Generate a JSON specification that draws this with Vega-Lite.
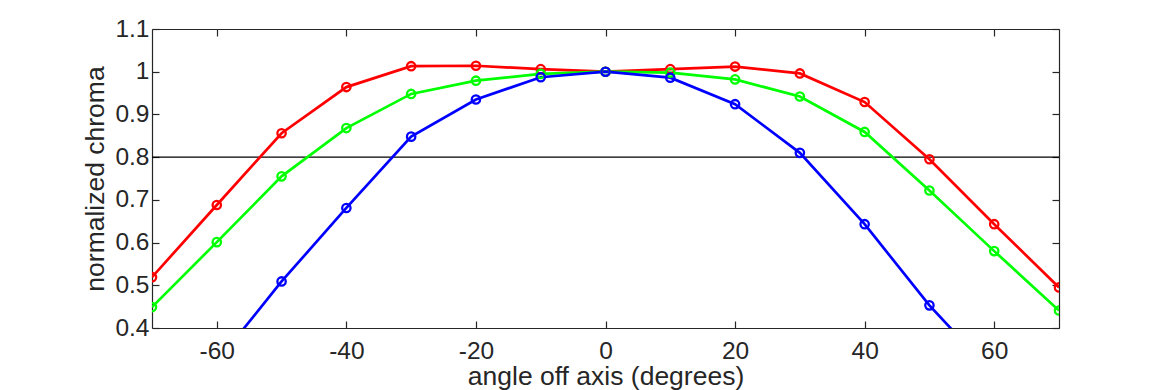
{
  "$schema": "https://vega.github.io/schema/vega-lite/v6.json",
  "width": 907,
  "height": 299,
  "autosize": "none",
  "padding": {"left": 152, "top": 29, "right": 111, "bottom": 62},
  "background": "white",
  "config": {
    "view": {"stroke": null},
    "font": "Liberation Sans",
    "axis": {
      "domainColor": "#262626",
      "domainWidth": 1.2,
      "tickColor": "#262626",
      "tickWidth": 1.2,
      "tickSize": -7,
      "grid": false,
      "labelColor": "#262626",
      "labelFontSize": 24.5,
      "labelFont": "Liberation Sans",
      "titleFont": "Liberation Sans",
      "titleFontSize": 26.5,
      "titleFontWeight": "normal",
      "titleColor": "#262626"
    }
  },
  "data": {
    "values": [
      {"angle": -70, "chroma": 0.519, "series": "red"},
      {"angle": -60, "chroma": 0.688, "series": "red"},
      {"angle": -50, "chroma": 0.856, "series": "red"},
      {"angle": -40, "chroma": 0.964, "series": "red"},
      {"angle": -30, "chroma": 1.013, "series": "red"},
      {"angle": -20, "chroma": 1.014, "series": "red"},
      {"angle": -10, "chroma": 1.006, "series": "red"},
      {"angle": 0, "chroma": 1.0, "series": "red"},
      {"angle": 10, "chroma": 1.006, "series": "red"},
      {"angle": 20, "chroma": 1.012, "series": "red"},
      {"angle": 30, "chroma": 0.996, "series": "red"},
      {"angle": 40, "chroma": 0.929, "series": "red"},
      {"angle": 50, "chroma": 0.795, "series": "red"},
      {"angle": 60, "chroma": 0.643, "series": "red"},
      {"angle": 70, "chroma": 0.495, "series": "red"},
      {"angle": -70, "chroma": 0.449, "series": "green"},
      {"angle": -60, "chroma": 0.601, "series": "green"},
      {"angle": -50, "chroma": 0.755, "series": "green"},
      {"angle": -40, "chroma": 0.868, "series": "green"},
      {"angle": -30, "chroma": 0.948, "series": "green"},
      {"angle": -20, "chroma": 0.979, "series": "green"},
      {"angle": -10, "chroma": 0.995, "series": "green"},
      {"angle": 0, "chroma": 1.0, "series": "green"},
      {"angle": 10, "chroma": 0.998, "series": "green"},
      {"angle": 20, "chroma": 0.982, "series": "green"},
      {"angle": 30, "chroma": 0.942, "series": "green"},
      {"angle": 40, "chroma": 0.859, "series": "green"},
      {"angle": 50, "chroma": 0.722, "series": "green"},
      {"angle": 60, "chroma": 0.58, "series": "green"},
      {"angle": 70, "chroma": 0.441, "series": "green"},
      {"angle": -70, "chroma": 0.15, "series": "blue"},
      {"angle": -60, "chroma": 0.32, "series": "blue"},
      {"angle": -50, "chroma": 0.509, "series": "blue"},
      {"angle": -40, "chroma": 0.681, "series": "blue"},
      {"angle": -30, "chroma": 0.848, "series": "blue"},
      {"angle": -20, "chroma": 0.935, "series": "blue"},
      {"angle": -10, "chroma": 0.987, "series": "blue"},
      {"angle": 0, "chroma": 1.0, "series": "blue"},
      {"angle": 10, "chroma": 0.986, "series": "blue"},
      {"angle": 20, "chroma": 0.924, "series": "blue"},
      {"angle": 30, "chroma": 0.81, "series": "blue"},
      {"angle": 40, "chroma": 0.643, "series": "blue"},
      {"angle": 50, "chroma": 0.453, "series": "blue"},
      {"angle": 60, "chroma": 0.29, "series": "blue"},
      {"angle": 70, "chroma": 0.12, "series": "blue"}
    ]
  },
  "layer": [
    {
      "data": {"values": [{"level": 0.8}]},
      "mark": {"type": "rule", "color": "black", "strokeWidth": 1.2},
      "encoding": {
        "y": {"field": "level", "type": "quantitative", "scale": {"domain": [0.4, 1.1], "nice": false, "zero": false}, "axis": null}
      }
    },
    {
      "mark": {"type": "line", "strokeWidth": 2.7, "clip": true},
      "encoding": {
        "x": {"field": "angle", "type": "quantitative", "scale": {"domain": [-70, 70], "nice": false},
          "axis": {"orient": "bottom", "values": [-60, -40, -20, 0, 20, 40, 60], "labelExpr": "'' + datum.value", "labelPadding": 18, "title": "angle off axis (degrees)", "titlePadding": 1}},
        "y": {"field": "chroma", "type": "quantitative", "scale": {"domain": [0.4, 1.1], "nice": false, "zero": false},
          "axis": {"orient": "left", "values": [0.4, 0.5, 0.6, 0.7, 0.8, 0.9, 1, 1.1], "format": "~g", "labelPadding": 10, "title": "normalized chroma", "titlePadding": 5}},
        "color": {"field": "series", "type": "nominal", "scale": {"domain": ["red", "green", "blue"], "range": ["#ff0000", "#00ff00", "#0000ff"]}, "legend": null}
      }
    },
    {
      "mark": {"type": "point", "filled": false, "size": 70, "strokeWidth": 2.3, "opacity": 1, "clip": true},
      "encoding": {
        "x": {"field": "angle", "type": "quantitative", "scale": {"domain": [-70, 70], "nice": false},
          "axis": {"orient": "top", "values": [-60, -40, -20, 0, 20, 40, 60], "labels": false, "title": null}},
        "y": {"field": "chroma", "type": "quantitative", "scale": {"domain": [0.4, 1.1], "nice": false, "zero": false},
          "axis": {"orient": "right", "values": [0.4, 0.5, 0.6, 0.7, 0.8, 0.9, 1, 1.1], "labels": false, "title": null}},
        "color": {"field": "series", "type": "nominal", "scale": {"domain": ["red", "green", "blue"], "range": ["#ff0000", "#00ff00", "#0000ff"]}, "legend": null}
      }
    }
  ],
  "resolve": {"axis": {"x": "independent", "y": "independent"}}
}
